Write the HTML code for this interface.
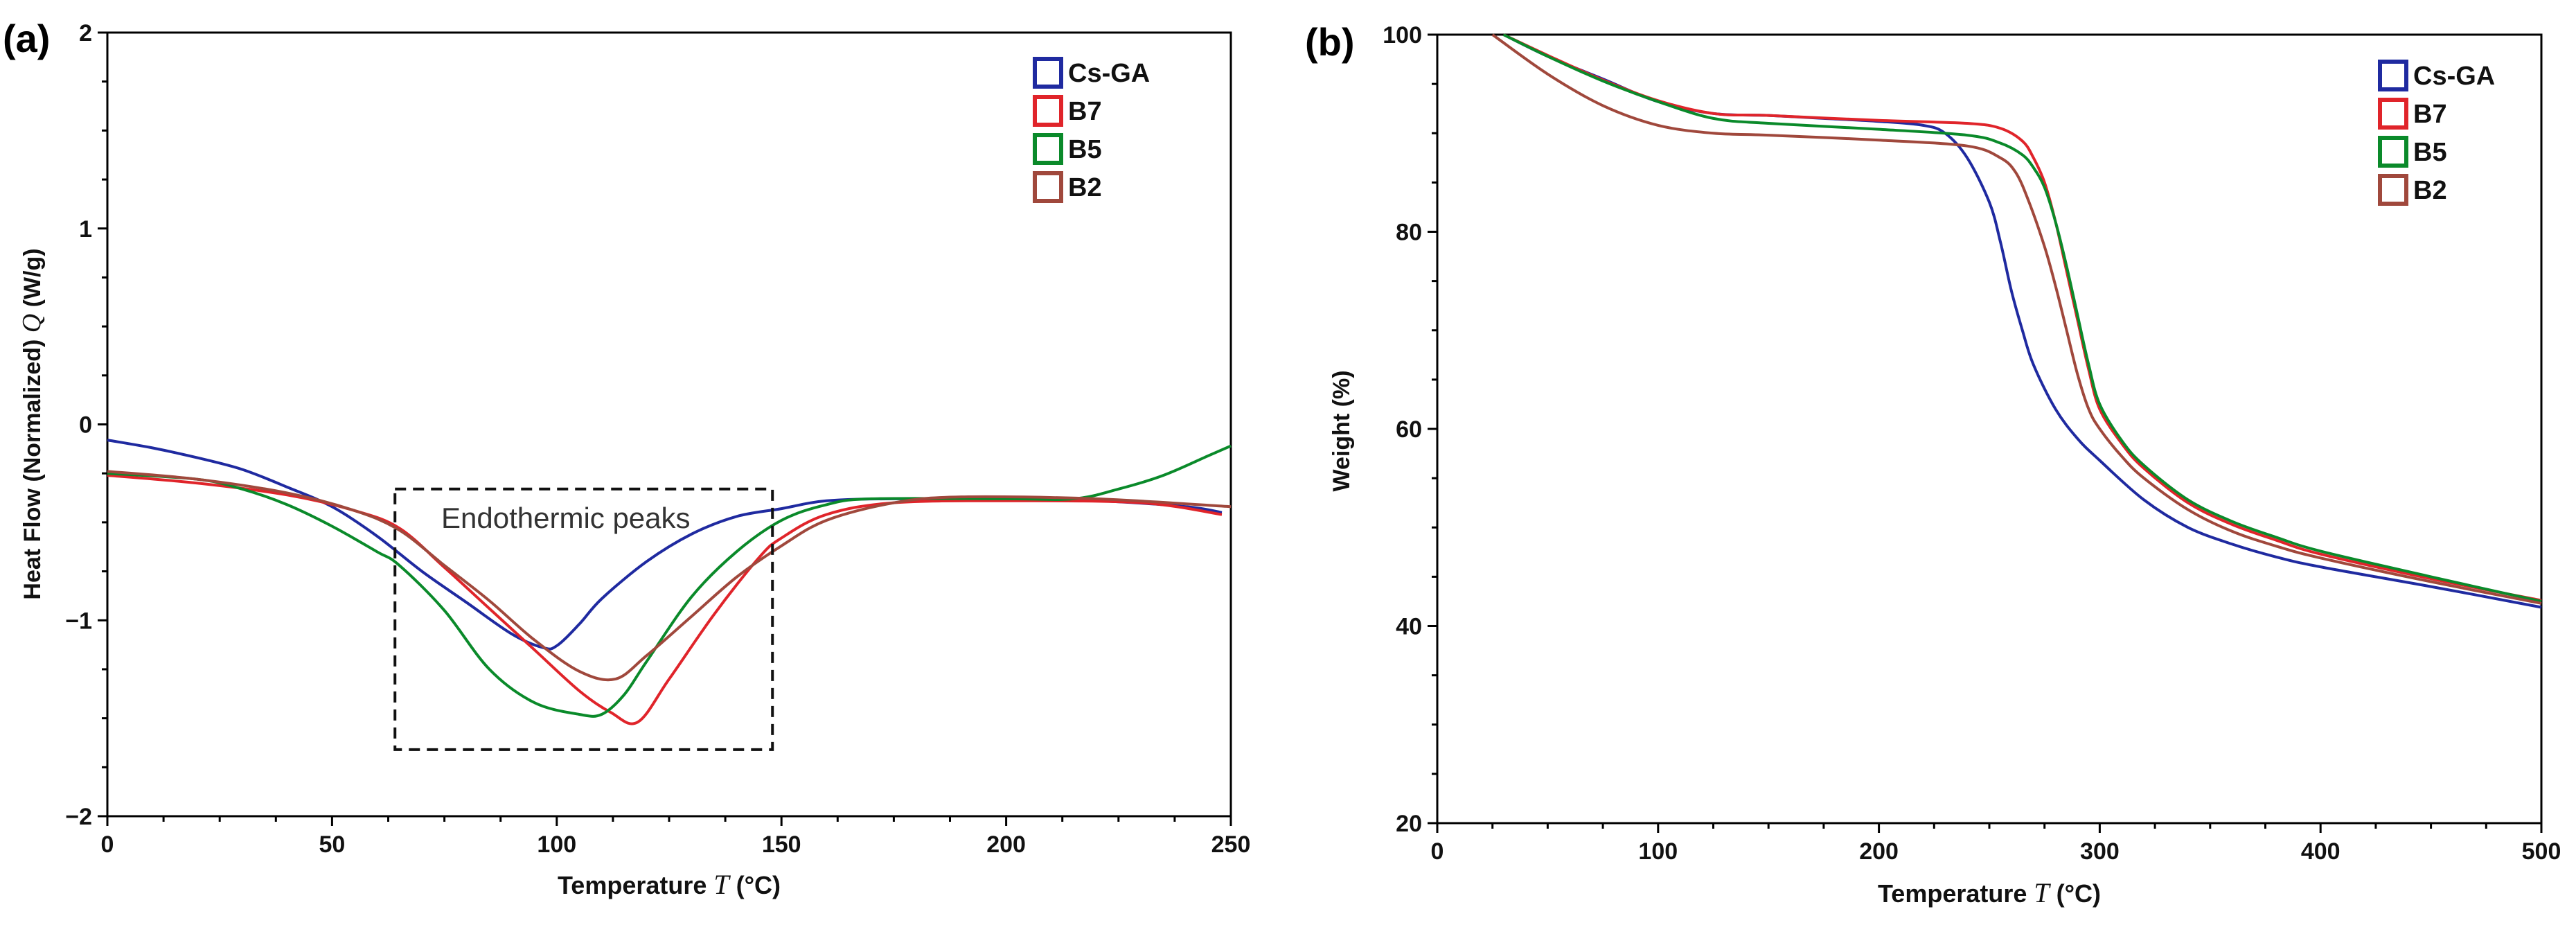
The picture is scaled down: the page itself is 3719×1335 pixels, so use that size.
<!DOCTYPE html>
<html><head><meta charset="utf-8">
<style>
html,body{margin:0;padding:0;background:#fff;}
svg{display:block;}
text{font-family:"Liberation Sans",sans-serif;}
</style></head>
<body>
<svg id="fig" width="3719" height="1335" viewBox="0 0 3719 1335" xmlns="http://www.w3.org/2000/svg">
<rect width="3719" height="1335" fill="#fff"/>
</svg>
<script>
// ---------- Panel (a) DSC data ----------
const dscSeriesNames = ["Cs-GA","B7","B5","B2"];
const dscColors = ["#1f2aa0","#e0242a","#0a8a2a","#a0483c"];
const dscCsGA_T = [0,10,20,30,40,50,60,70,80,90,97,100,105,110,120,130,140,150,160,175,200,220,240,248];
const dscCsGA_Q = [-0.08,-0.12,-0.17,-0.23,-0.32,-0.42,-0.57,-0.75,-0.91,-1.07,-1.14,-1.13,-1.02,-0.89,-0.70,-0.56,-0.47,-0.43,-0.39,-0.38,-0.385,-0.39,-0.42,-0.45];
const dscB7_T = [0,20,40,55,65,75,85,95,105,112,118,125,135,145,150,160,175,200,230,248];
const dscB7_Q = [-0.26,-0.30,-0.36,-0.44,-0.53,-0.73,-0.94,-1.15,-1.36,-1.47,-1.52,-1.30,-0.97,-0.68,-0.58,-0.46,-0.40,-0.39,-0.40,-0.46];
const dscB5_T = [0,20,30,40,50,60,65,75,85,95,105,110,115,120,130,140,150,160,170,200,215,225,235,245,250];
const dscB5_Q = [-0.25,-0.28,-0.33,-0.41,-0.52,-0.65,-0.72,-0.95,-1.25,-1.42,-1.48,-1.48,-1.38,-1.21,-0.88,-0.65,-0.49,-0.41,-0.38,-0.38,-0.38,-0.33,-0.26,-0.16,-0.11];
const dscB2_T = [0,20,40,55,65,75,85,95,105,113,120,130,140,150,160,175,190,220,250];
const dscB2_Q = [-0.24,-0.28,-0.35,-0.44,-0.54,-0.72,-0.90,-1.10,-1.26,-1.30,-1.18,-0.98,-0.78,-0.62,-0.49,-0.40,-0.37,-0.38,-0.42];
const dscXTicks = [0,50,100,150,200,250];
const dscYTicks = [-2,-1,0,1,2];
const dscYTickLabels = ["\u22122","\u22121","0","1","2"];

// ---------- Panel (b) TGA data ----------
const tgaCsGA_T = [30,50,75,100,125,150,175,200,220,230,240,250,255,260,265,270,280,290,300,320,340,360,380,400,450,500];
const tgaCsGA_W = [100,97.8,95.5,93.2,92.0,91.8,91.5,91.2,90.8,90.0,87.5,83,79,74,70,66.5,62,59,56.8,52.8,50,48.3,47,46,44,41.9];
const tgaB7_T = [30,50,75,100,125,150,200,240,255,265,270,275,280,285,290,295,300,310,320,340,360,380,400,450,500];
const tgaB7_W = [100,97.9,95.4,93.3,92.0,91.8,91.3,91,90.5,89.2,87.5,85,81,76,71,66,62,58.5,56,52.5,50.3,48.7,47.3,44.8,42.6];
const tgaB5_T = [30,50,75,100,125,150,200,240,255,265,270,275,280,285,290,295,300,310,320,340,360,380,400,450,500];
const tgaB5_W = [100,97.8,95.3,93.2,91.5,91,90.4,89.8,89,87.8,86.5,84.5,81,76.5,71.5,66.5,62.5,58.8,56.3,52.8,50.6,49,47.6,45,42.5];
const tgaB2_T = [25,50,75,100,125,150,200,240,255,262,268,275,280,285,290,295,300,310,320,340,360,380,400,450,500];
const tgaB2_W = [100,96,92.8,90.8,90,89.8,89.3,88.7,87.5,86,83,78.5,74.5,70,65.5,62,60,57.2,55,51.8,49.6,48.1,46.9,44.5,42.3];
const tgaXTicks = [0,100,200,300,400,500];
const tgaYTicks = [20,40,60,80,100];

const NS = "http://www.w3.org/2000/svg";
const svg = document.getElementById('fig');
function el(tag, attrs, parent){
  const e = document.createElementNS(NS, tag);
  for (const k in attrs) e.setAttribute(k, attrs[k]);
  (parent||svg).appendChild(e);
  return e;
}
function smoothPath(pts){
  let d = "M"+pts[0][0].toFixed(1)+","+pts[0][1].toFixed(1);
  for (let i=0;i<pts.length-1;i++){
    const p0=pts[Math.max(0,i-1)], p1=pts[i], p2=pts[i+1], p3=pts[Math.min(pts.length-1,i+2)];
    const c1x=p1[0]+(p2[0]-p0[0])/6, c1y=p1[1]+(p2[1]-p0[1])/6;
    const c2x=p2[0]-(p3[0]-p1[0])/6, c2y=p2[1]-(p3[1]-p1[1])/6;
    d += " C"+c1x.toFixed(1)+","+c1y.toFixed(1)+" "+c2x.toFixed(1)+","+c2y.toFixed(1)+" "+p2[0].toFixed(1)+","+p2[1].toFixed(1);
  }
  return d;
}

function drawPanel(cfg){
  const g = el('g', {});
  
  
  const sx = v => cfg.L + (v-cfg.xmin)/(cfg.xmax-cfg.xmin)*(cfg.R-cfg.L);
  const sy = v => cfg.B - (v-cfg.ymin)/(cfg.ymax-cfg.ymin)*(cfg.B-cfg.T);
  const fr = el('rect', {x:cfg.L, y:cfg.T, width:cfg.R-cfg.L, height:cfg.B-cfg.T, fill:'none', stroke:'#000', 'stroke-width':3}, g);
  
  
  for (let v=cfg.xmin; v<=cfg.xmax+1e-6; v+=cfg.xminor){
    const major = cfg.xticks.some(t=>Math.abs(t-v)<1e-6);
    const x=sx(v);
    const t = el('line', {x1:x, x2:x, y1:cfg.B, y2:cfg.B+(major?14:8), stroke:'#000','stroke-width':3}, g);
    
    
  }
  cfg.xticks.forEach(v=>{
    const t = el('text', {x:sx(v), y:cfg.B+52, 'font-size':34, 'font-weight':'bold', 'text-anchor':'middle', fill:'#111'}, g);
    t.textContent = v;
    
    
  });
  for (let v=cfg.ymin; v<=cfg.ymax+1e-6; v+=cfg.yminor){
    const major = cfg.yticks.some(t=>Math.abs(t-v)<1e-6);
    const y=sy(v);
    const t = el('line', {x1:cfg.L-(major?14:8), x2:cfg.L, y1:y, y2:y, stroke:'#000','stroke-width':3}, g);
    
    
  }
  cfg.yticks.forEach((v,i)=>{
    const t = el('text', {x:cfg.L-22, y:sy(v)+12, 'font-size':34, 'font-weight':'bold', 'text-anchor':'end', fill:'#111'}, g);
    t.textContent = cfg.ylabels ? cfg.ylabels[i] : v;
    
    
  });
  const xt = el('text', {x:(cfg.L+cfg.R)/2, y:cfg.xtitleY, 'font-size':36, 'font-weight':'bold', 'text-anchor':'middle', fill:'#111'}, g);
  xt.innerHTML = 'Temperature <tspan font-family="Liberation Serif" font-style="italic" font-weight="normal" font-size="40">T</tspan> (°C)';
  
  
  const yt = el('text', {x:0, y:0, transform:'translate('+cfg.ytitleX+','+cfg.ytitleY+') rotate(-90)', 'font-size':34, 'font-weight':'bold', 'text-anchor':'middle', fill:'#111'}, g);
  yt.innerHTML = cfg.ytitle;
  
  
  const pl = el('text', {x:cfg.letterX, y:cfg.letterY, 'font-size':56, 'font-weight':'bold', fill:'#000'}, g);
  pl.textContent = cfg.letter;
  
  
  cfg.series.forEach((s,i)=>{
    const pts = s.x.map((v,j)=>[sx(v), sy(s.y[j])]);
    const p = el('path', {d:smoothPath(pts), fill:'none', stroke:dscColors[i], 'stroke-width':4, 'stroke-linejoin':'round'}, g);
    
    
  });
  dscSeriesNames.forEach((n,i)=>{
    const y = cfg.legY + i*cfg.legDy;
    const r = el('rect', {x:cfg.legX, y:y-19, width:38, height:40, fill:'none', stroke:dscColors[i], 'stroke-width':6}, g);
    
    
    const t = el('text', {x:cfg.legX+48, y:y+14, 'font-size':38, 'font-weight':'bold', fill:'#111'}, g);
    t.textContent = n;
    
    
  });
  return {sx, sy, g};
}

const A = drawPanel({name:'dsc-chart', L:155, R:1777, T:47, B:1178, xmin:0, xmax:250, ymin:-2, ymax:2,
  xticks:dscXTicks, xminor:12.5, yticks:dscYTicks, ylabels:dscYTickLabels, yminor:0.25,
  xtitleY:1290, ytitleX:58, ytitleY:612,
  ytitle:'Heat Flow (Normalized) <tspan font-family="Liberation Serif" font-style="italic" font-weight="normal" font-size="38">Q</tspan> (W/g)',
  letter:'(a)', letterX:4, letterY:75, legX:1494, legY:104, legDy:55,
  series:[{x:dscCsGA_T,y:dscCsGA_Q},{x:dscB7_T,y:dscB7_Q},{x:dscB5_T,y:dscB5_Q},{x:dscB2_T,y:dscB2_Q}]});

const boxX0=64, boxX1=148, boxY0=-0.33, boxY1=-1.66;
const bx = el('rect', {x:A.sx(boxX0), y:A.sy(boxY0), width:A.sx(boxX1)-A.sx(boxX0), height:A.sy(boxY1)-A.sy(boxY0), fill:'none', stroke:'#111','stroke-width':4,'stroke-dasharray':'16,10'}, A.g);


const an = el('text', {x:A.sx(102), y:A.sy(-0.48)+14, 'font-size':42, 'text-anchor':'middle', fill:'#333'}, A.g);
an.textContent = 'Endothermic peaks';



drawPanel({name:'tga-chart', L:2075, R:3669, T:50, B:1188, xmin:0, xmax:500, ymin:20, ymax:100,
  xticks:tgaXTicks, xminor:25, yticks:tgaYTicks, yminor:5,
  xtitleY:1302, ytitleX:1948, ytitleY:622,
  ytitle:'Weight  (%)',
  letter:'(b)', letterX:1884, letterY:80, legX:3436, legY:108, legDy:55,
  series:[{x:tgaCsGA_T,y:tgaCsGA_W},{x:tgaB7_T,y:tgaB7_W},{x:tgaB5_T,y:tgaB5_W},{x:tgaB2_T,y:tgaB2_W}]});
</script>
</body></html>
